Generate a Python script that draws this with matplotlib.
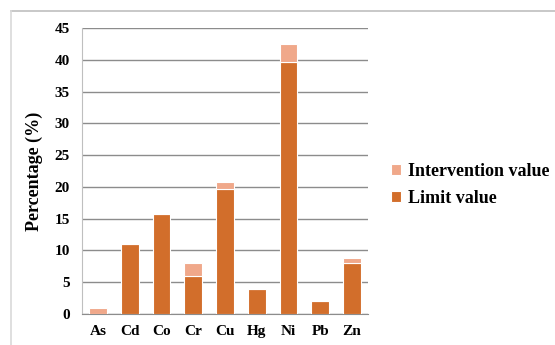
import matplotlib.pyplot as plt
import matplotlib.lines as mlines
import numpy as np

# datos
metales = ['As', 'Cd', 'Co', 'Cr', 'Cu', 'Hg', 'Ni', 'Pb', 'Zn']
limite = [0, 11.0, 15.7, 6.0, 19.7, 3.9, 39.6, 2.0, 8.0]
intervencion = [0.9, 0, 0, 2.0, 1.0, 0, 2.9, 0, 0.8]

color_lim = '#D26E2B'
color_int = '#F0A88A'

plt.rcParams['font.family'] = ['Liberation Serif', 'DejaVu Serif']
plt.rcParams['font.weight'] = 'bold'

fig = plt.figure(figsize=(5.55, 3.45), dpi=100)
# marco del grafico (solo borde superior e izquierdo visibles)
fig.add_artist(mlines.Line2D([10.5 / 555, 1.0], [1 - 10.5 / 345, 1 - 10.5 / 345],
                             transform=fig.transFigure, color='#BFBFBF', linewidth=1.2))
fig.add_artist(mlines.Line2D([10.5 / 555, 10.5 / 555], [0.0, 1 - 10.5 / 345],
                             transform=fig.transFigure, color='#D9D9D9', linewidth=1.2))
ax = fig.add_axes([0.148, 0.0899, 0.515, 0.829])

x = np.arange(len(metales))
ax.bar(x, limite, width=0.56, color=color_lim, edgecolor='white', linewidth=0.8,
       label='Limit value', zorder=3)
ax.bar(x, intervencion, bottom=limite, width=0.56, color=color_int, edgecolor='white',
       linewidth=0.8, label='Intervention value', zorder=3)

ax.set_ylim(0, 45)
ax.set_yticks(np.arange(0, 46, 5))
ax.set_xlim(-0.5, len(metales) - 0.5)
ax.set_xticks(x)
ax.set_xticklabels(metales, fontsize=11, fontweight='bold')
ax.tick_params(axis='y', labelsize=11, length=0, pad=9)
ax.tick_params(axis='x', length=0, pad=8)
ax.grid(axis='y', color='#8C8C8C', linewidth=1.0, zorder=0)
for s in ['top', 'right']:
    ax.spines[s].set_visible(False)
ax.spines['bottom'].set_color('#8C8C8C')
ax.spines['left'].set_color('#BFBFBF')
ax.set_ylabel('Percentage (%)', fontsize=13, fontweight='bold', labelpad=8)

handles, labels = ax.get_legend_handles_labels()
ax.legend(handles[::-1], labels[::-1], loc='center left', bbox_to_anchor=(1.025, 0.45),
          frameon=False, fontsize=13, handlelength=0.55, handleheight=0.55,
          handletextpad=0.35, labelspacing=0.55)

fig.savefig('out.png', dpi=100)
